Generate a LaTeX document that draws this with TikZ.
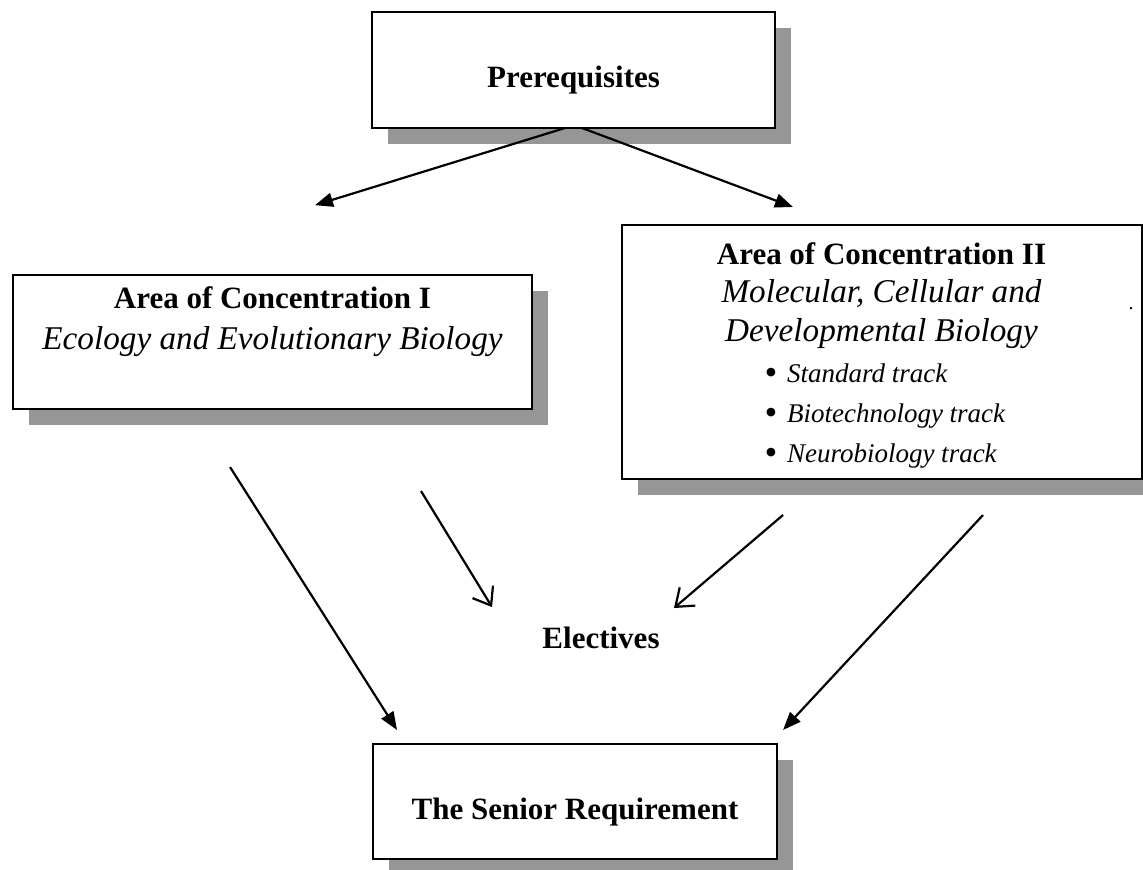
\documentclass[tikz,border=0pt]{standalone}
\usepackage{fontspec}
\setmainfont{Liberation Serif}
\usetikzlibrary{arrows.meta,shadows}

\begin{document}
\begin{tikzpicture}[x=0.5pt,y=-0.5pt,
  box/.style={draw=black,line width=1pt,fill=white,outer sep=0pt,
    drop shadow={shadow xshift=8pt,shadow yshift=-8pt,fill=black!41,opacity=1}},
  title/.style={inner sep=0pt,font=\fontsize{15.5}{20}\selectfont\bfseries},
  arc/.style={-{Triangle[length=9pt,width=7pt]},draw=black,line width=1.1pt},
  barb/.style={-{Straight Barb[length=8pt,width=12pt]},draw=black,line width=1.1pt}
]
\useasboundingbox (0,0) rectangle (1143,869);

\node[box,minimum width=201.5pt,minimum height=58pt] (pre) at (573.5,70) {};
\node[box,minimum width=259.5pt,minimum height=67pt] (aoc1) at (272.5,342) {};
\node[box,minimum width=260pt,minimum height=127pt] (aoc2) at (881.5,352) {};
\node[box,minimum width=202pt,minimum height=57.5pt] (senior) at (575,801.5) {};

\node[title,anchor=base] (pretext) at (573.5,87) {Prerequisites};
\node[title,anchor=north,align=center,font=\fontsize{15.5}{20.5}\selectfont\bfseries] (aoc1text) at (272.5,286)
  {Area of Concentration I\\{\fontsize{16.6}{20.5}\selectfont\mdseries\itshape Ecology and Evolutionary Biology}};
\node[title,anchor=north,align=center,font=\fontsize{15.5}{19.3}\selectfont\bfseries] (aoc2text) at (881.5,242)
  {Area of Concentration II\\{\fontsize{16.6}{19.3}\selectfont\mdseries\itshape Molecular, Cellular and}\\
   {\fontsize{16.6}{19.3}\selectfont\mdseries\itshape Developmental Biology}};
\node[anchor=north west,inner sep=0pt,align=left,font=\fontsize{13.5}{20}\selectfont\itshape] (tracks) at (764,363)
  {\raisebox{-1.3pt}{\fontsize{18}{20}\selectfont\textbullet}\hspace{5pt}Standard track\\
   \raisebox{-1.3pt}{\fontsize{18}{20}\selectfont\textbullet}\hspace{5pt}Biotechnology track\\
   \raisebox{-1.3pt}{\fontsize{18}{20}\selectfont\textbullet}\hspace{5pt}Neurobiology track};
\node[inner sep=0pt,font=\fontsize{10}{12}\selectfont] (dot) at (1131,309) {.};
\node[title,anchor=base] (elect) at (601,648) {Electives};
\node[title,anchor=base] (seniortext) at (575,819) {The Senior Requirement};

\draw[arc,shorten >=118.4pt] ([shift={(-8.5,0)}]pre.south) -- ([shift={(-183.8,0)}]aoc1.north);
\draw[arc,shorten >=25.7pt] ([shift={(8.5,0)}]pre.south) -- ([shift={(-40.4,0)}]aoc2.north);
\draw[arc,shorten <=34.4pt,shorten >=8.3pt] ([shift={(-79.3,0)}]aoc1.south) -- ([shift={(-169.1,0)}]senior.north);
\draw[barb,shorten <=48.1pt,shorten >=24pt] ([shift={(98.3,0)}]aoc1.south) -- ([shift={(-83.9,0)}]elect.base);
\draw[barb,shorten <=27.7pt,shorten >=30.8pt] ([shift={(-56.3,0)}]aoc2.south) -- ([shift={(26.1,0)}]elect.base);
\draw[arc,shorten <=24.6pt,shorten >=9.6pt] ([shift={(135,0)}]aoc2.south) -- ([shift={(195,0)}]senior.north);
\end{tikzpicture}
\end{document}
